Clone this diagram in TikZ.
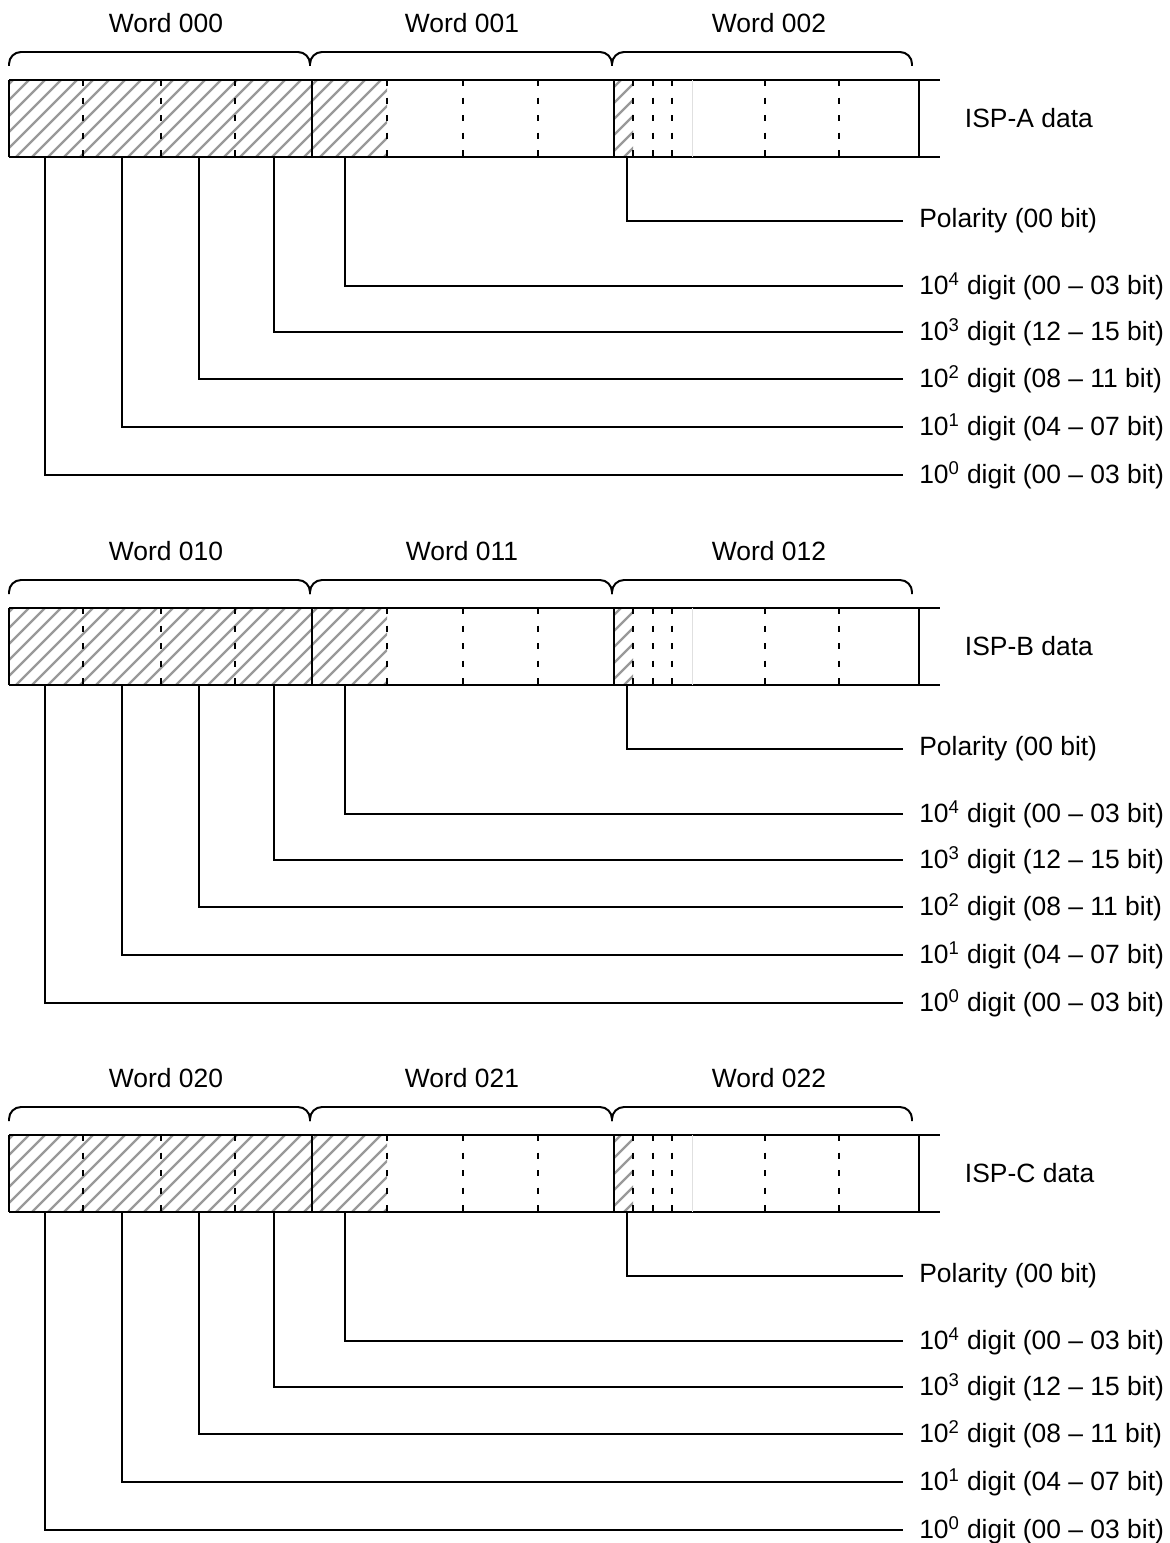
\documentclass[tikz,border=0pt]{standalone}
\usepackage{fontspec}
\setmainfont{Liberation Sans}
\usetikzlibrary{positioning,calc}

\begin{document}
\begin{tikzpicture}[
  x=0.025cm, y=-0.025cm,
  frame/.style={line width=1.4pt},
  sep/.style={line width=1.4pt, dash pattern=on 4.3pt off 8.2pt},
  hatch/.style={black!40, line width=1.7pt},
  lead/.style={line width=1.4pt},
  brace/.style={line width=1.4pt, rounded corners=0.3cm},
  word/.style={font=\fontsize{18.8}{22}\selectfont},
  lbl/.style={anchor=west, inner xsep=0.4cm, inner ysep=0pt, font=\fontsize{18.8}{22}\selectfont}
]
\useasboundingbox (0,0) rectangle (1169,1543);

\foreach \b/\o/\w in {A/0/00, B/528/01, C/1055/02} {
\begin{scope}[shift={(0,\o)}]
  % hatched bits
  \begin{scope}
    \clip (9,80) rectangle (387,157) (614,80) rectangle (633,157);
    \foreach \x in {-80,-64,...,640} \draw[hatch] (\x,157) -- ++(77,-77);
  \end{scope}

  % word frame
  \draw[frame] (9,80) -- (940,80) (9,157) -- (940,157);
  \draw[frame] (9,80) -- (9,157) (312,80) -- (312,157) (614,80) -- (614,157) (919,80) -- (919,157);
  \foreach \x in {83,161,235,387,463,538,633,653,672,765,839} \draw[sep] (\x,80) -- (\x,157);
  \draw[black!12, line width=0.6pt] (692,80) -- (692,157);

  % braces and word numbers
  \draw[brace] (9,66) -- (9,52) -- (310,52) -- (310,66);
  \draw[brace] (310,66) -- (310,52) -- (612,52) -- (612,66);
  \draw[brace] (612,66) -- (612,52) -- (912,52) -- (912,66);
  \node[word] (w\b0) at (166,23) {Word \w0};
  \node[word] (w\b1) at (462,23) {Word \w1};
  \node[word] (w\b2) at (769,23) {Word \w2};
  \node[word, anchor=west] (isp\b) at (960,118) {ISP-\b\ data};

  % labels
  \node[lbl] (pol\b) at (903,221) {Polarity (00 bit)};
  \node[lbl] (dd4\b) at (903,286) {10\textsuperscript{4} digit (00 – 03 bit)};
  \node[lbl] (dd3\b) at (903,332) {10\textsuperscript{3} digit (12 – 15 bit)};
  \node[lbl] (dd2\b) at (903,379) {10\textsuperscript{2} digit (08 – 11 bit)};
  \node[lbl] (dd1\b) at (903,427) {10\textsuperscript{1} digit (04 – 07 bit)};
  \node[lbl] (dd0\b) at (903,475) {10\textsuperscript{0} digit (00 – 03 bit)};

  % taps on the bar
  \coordinate (tp\b) at (627,157);
  \coordinate (t4\b) at (345,157);
  \coordinate (t3\b) at (274,157);
  \coordinate (t2\b) at (199,157);
  \coordinate (t1\b) at (122,157);
  \coordinate (t0\b) at (45,157);

  \draw[lead] (tp\b) |- (pol\b.west);
  \draw[lead] (t4\b) |- (dd4\b.west);
  \draw[lead] (t3\b) |- (dd3\b.west);
  \draw[lead] (t2\b) |- (dd2\b.west);
  \draw[lead] (t1\b) |- (dd1\b.west);
  \draw[lead] (t0\b) |- (dd0\b.west);
\end{scope}
}
\end{tikzpicture}
\end{document}
